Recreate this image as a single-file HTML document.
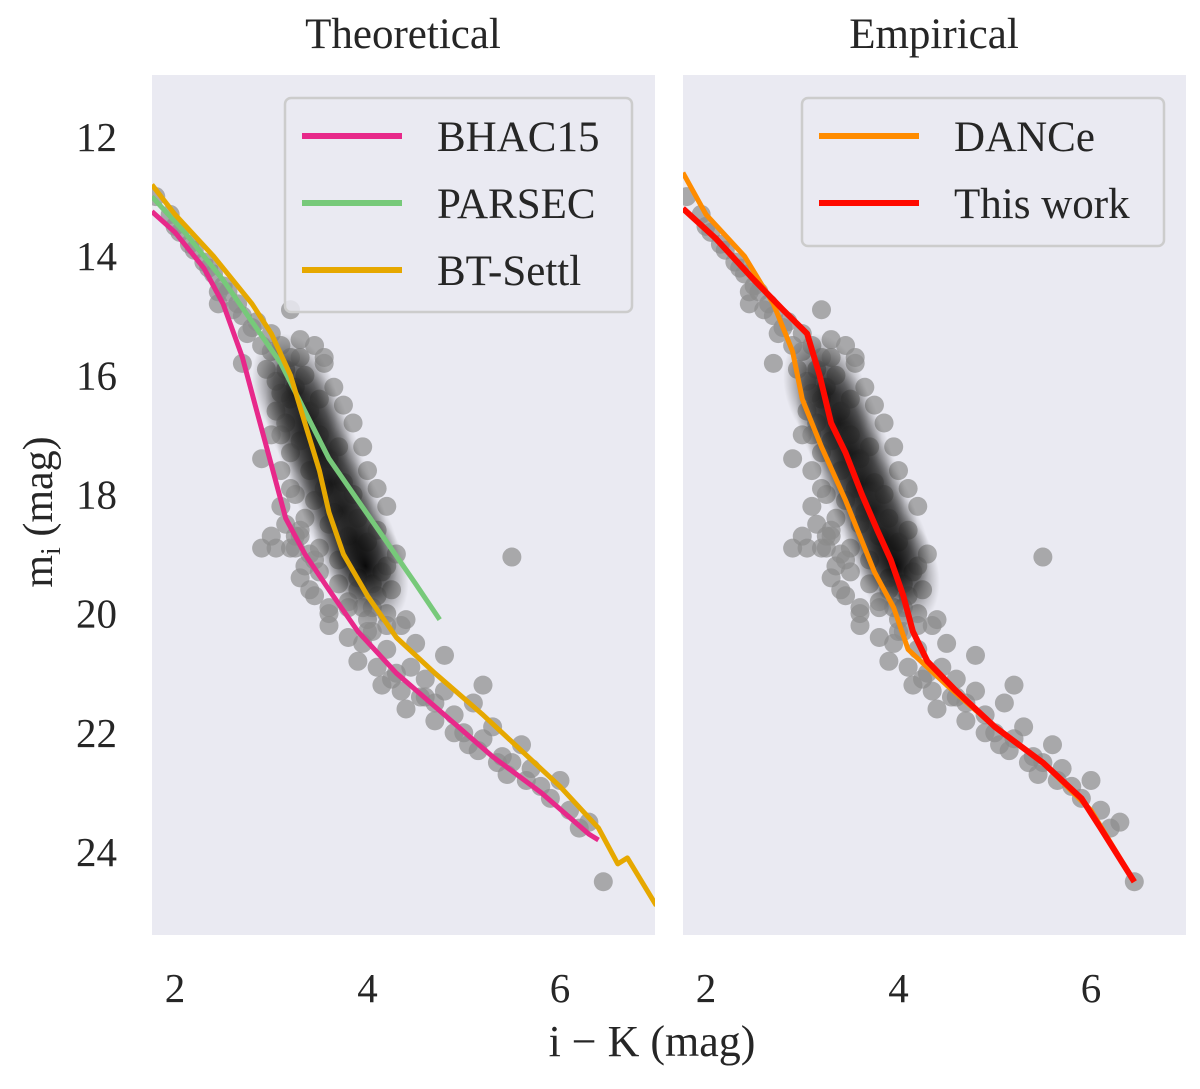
<!DOCTYPE html>
<html><head><meta charset="utf-8"><style>
body{margin:0;background:#fff}
svg text{font-family:"Liberation Serif",serif;fill:#262626}
</style></head><body>
<svg id="fig" width="1200" height="1084" xmlns="http://www.w3.org/2000/svg">
<defs>
<radialGradient id="core" cx="50%" cy="50%" r="50%">
<stop offset="0%" stop-color="#000" stop-opacity="0.9"/>
<stop offset="50%" stop-color="#222" stop-opacity="0.6"/>
<stop offset="100%" stop-color="#555" stop-opacity="0"/>
</radialGradient>
</defs>
</svg>
<script>
const xTicks=[2,4,6];
const yTicks=[12,14,16,18,20,22,24];
const bhacX=[1.76,2.0,2.3,2.5,2.7,2.85,3.0,3.15,3.35,3.6,3.9,4.3,4.8,5.3,5.8,6.3,6.4];
const bhacY=[13.25,13.6,14.2,14.8,15.7,16.6,17.5,18.4,19.0,19.6,20.3,21.0,21.7,22.4,23.0,23.7,23.8];
const parsecX=[1.76,2.1,2.5,2.8,3.1,3.35,3.6,3.9,4.2,4.5,4.75];
const parsecY=[13.0,13.6,14.4,15.1,15.8,16.6,17.4,18.1,18.8,19.5,20.1];
const btX=[1.76,2.0,2.4,2.8,3.0,3.2,3.35,3.5,3.6,3.75,4.0,4.3,4.7,5.2,5.6,6.0,6.4,6.6,6.7,7.0];
const btY=[12.8,13.3,14.0,14.8,15.3,16.0,16.8,17.6,18.3,19.0,19.7,20.4,21.0,21.7,22.3,22.9,23.6,24.2,24.1,24.9];
const danceX=[1.76,2.0,2.4,2.7,2.9,3.0,3.2,3.45,3.6,3.75,3.95,4.1,4.5,5.0,5.5,6.0,6.45];
const danceY=[12.6,13.3,14.0,14.8,15.6,16.4,17.2,18.1,18.7,19.3,19.9,20.6,21.2,21.9,22.5,23.3,24.5];
const workX=[1.76,2.1,2.5,2.8,3.05,3.18,3.3,3.45,3.62,3.78,3.92,4.05,4.15,4.3,4.6,5.0,5.5,5.9,6.1,6.45];
const workY=[13.2,13.7,14.4,14.9,15.3,16.0,16.8,17.3,18.0,18.6,19.1,19.7,20.3,20.8,21.3,21.9,22.5,23.1,23.6,24.5];
const starX=[1.8,1.95,2.05,2.2,2.3,2.4,2.45,2.55,2.6,2.7,2.75,2.8,2.9,2.95,3.0,3.05,3.1,3.15,3.2,3.3,3.35,3.4,3.5,3.1,3.2,3.3,3.4,3.5,3.6,3.7,3.25,3.35,3.45,3.55,3.65,3.75,3.85,3.3,3.5,3.6,3.7,3.8,3.9,4.0,4.1,3.5,3.7,3.8,3.9,4.0,4.1,4.2,4.3,3.05,3.2,3.35,3.6,3.8,4.0,4.2,4.4,3.9,4.1,4.3,4.5,4.15,4.35,4.6,4.4,4.6,4.8,4.7,4.9,5.1,5.0,5.2,5.3,5.4,5.6,5.5,5.7,5.8,6.0,6.1,6.3,6.45,5.5,2.9,2.7,2.45,2.9,3.0,4.8,5.2,
2.0,2.15,2.35,2.5,2.65,2.85,3.0,3.1,3.2,3.3,3.45,3.55,3.05,3.15,3.25,3.0,3.1,3.2,3.15,3.25,3.4,3.1,3.25,3.45,3.3,3.45,3.6,3.8,3.95,4.05,4.15,4.25,3.95,4.05,4.2,4.35,4.25,4.45,4.55,4.7,4.9,5.05,5.15,5.35,5.45,5.65,5.9,6.2,3.9,4.05,4.2,3.4,3.6,3.55,3.65,3.75,3.85,3.95,4.0,4.1,4.2,3.3,3.2];
const starY=[13.0,13.3,13.6,13.9,14.1,14.3,14.6,14.6,14.9,15.0,15.3,15.2,15.5,15.9,15.6,16.1,16.3,15.9,16.4,15.7,16.0,16.6,16.4,17.0,17.3,17.1,17.6,17.0,17.4,17.2,18.0,18.4,18.1,17.9,18.3,17.8,18.0,18.7,18.9,18.5,19.1,18.7,18.4,18.8,18.6,19.3,19.5,19.8,19.4,20.1,19.7,19.2,19.0,18.9,18.9,19.2,20.0,20.4,20.3,20.6,20.1,20.8,20.9,21.0,20.5,21.2,21.3,21.1,21.6,21.4,21.3,21.8,21.7,21.5,22.0,22.1,21.9,22.4,22.2,22.5,22.6,22.9,22.8,23.3,23.5,24.5,19.05,17.4,15.8,14.8,18.9,18.7,20.7,21.2,
13.5,13.8,14.2,14.5,14.8,15.1,15.3,15.5,15.7,15.4,15.5,15.8,16.6,16.8,16.2,17.0,17.6,17.9,18.5,18.7,19.0,18.2,18.9,19.1,19.4,19.7,19.9,19.9,19.9,19.5,19.3,19.6,20.5,20.3,20.0,20.2,21.1,20.9,21.4,21.5,22.0,22.2,22.3,22.5,22.7,22.8,23.1,23.6,19.6,19.9,20.2,19.6,20.2,15.7,16.2,16.5,16.8,17.2,17.6,17.9,18.2,18.6,14.9];
const coreX=[3.25,3.38,3.5,3.62,3.75,3.88,3.98];
const coreY=[16.3,16.8,17.3,17.8,18.3,18.8,19.2];
const svg=document.getElementById('fig');
const NS='http://www.w3.org/2000/svg';
function mk(t,a,p){const e=document.createElementNS(NS,t);for(const k in a)e.setAttribute(k,a[k]);(p||svg).appendChild(e);return e;}
const ys=v=>137+(v-12)*59.58;
const panels=[{x0:152,x2:175,title:'Theoretical',name:'theoretical'},{x0:683,x2:706,title:'Empirical',name:'empirical'}];
function xsF(p){return v=>p.x2+(v-2)*96.25;}
panels.forEach((p,pi)=>{
 const g=mk('g',{});
 
 
 mk('rect',{x:p.x0,y:75,width:503,height:860,fill:'#eaeaf2'},g);
 const cp=mk('clipPath',{id:'c'+pi},g);mk('rect',{x:p.x0,y:75,width:503,height:860},cp);
 const t=mk('text',{x:p.x0+251,y:48,'font-size':43,'text-anchor':'middle'},g);t.textContent=p.title;
 
 const xs=xsF(p);
 xTicks.forEach(v=>{const l=mk('text',{x:xs(v),y:1002,'font-size':41,'text-anchor':'middle'},g);l.textContent=v;
  });
 const pg=mk('g',{'clip-path':`url(#c${pi})`},g);
 
 starX.forEach((v,i)=>{const c=mk('circle',{cx:xs(v),cy:ys(starY[i]),r:9.5,fill:'#8c8c8c',opacity:0.7},pg);
  });
 coreX.forEach((v,i)=>{const c=mk('ellipse',{cx:xs(v),cy:ys(coreY[i]),rx:40,ry:62,fill:'url(#core)',transform:`rotate(-20 ${xs(v)} ${ys(coreY[i])})`},pg);
  });
 const series=pi==0?[[bhacX,bhacY,'#e7298a','bhac15-line'],[parsecX,parsecY,'#77c97a','parsec-line'],[btX,btY,'#e6a800','bt-settl-line']]
  :[[danceX,danceY,'#ff8c00','dance-line'],[workX,workY,'#ff0a00','this-work-line']];
 series.forEach(s=>{const d=s[0].map((v,i)=>(i?'L':'M')+xs(v).toFixed(1)+','+ys(s[1][i]).toFixed(1)).join('');
  const pa=mk('path',{d,fill:'none',stroke:s[2],'stroke-width':s[3]=='this-work-line'?6:5,'stroke-linejoin':'round'},pg);
  });
 const lg=mk('g',{},g);
 const lx=pi==0?285:802, lw=pi==0?347:362, lh=pi==0?214:148;
 mk('rect',{x:lx,y:98,width:lw,height:lh,rx:6,fill:'#eaeaf2','fill-opacity':0.85,stroke:'#ccc','stroke-width':2.5},lg);
 const labels=pi==0?['BHAC15','PARSEC','BT-Settl']:['DANCe','This work'];
 labels.forEach((L,i)=>{const y=136+i*67;
  const ln=mk('line',{x1:lx+17,x2:lx+117,y1:y,y2:y,stroke:series[i][2],'stroke-width':6},lg);
  
  const tx=mk('text',{x:lx+152,y:y+15,'font-size':43},lg);tx.textContent=L;
  });
});
yTicks.forEach(v=>{const l=mk('text',{x:117,y:ys(v)+14,'font-size':41,'text-anchor':'end'});l.textContent=v;
 });
const xt=mk('text',{x:652,y:1056,'font-size':44,'text-anchor':'middle'});xt.textContent='i − K (mag)';

const yt=mk('text',{x:0,y:0,'font-size':42,'text-anchor':'middle',transform:'translate(52,512) rotate(-90)'});
yt.innerHTML='m<tspan font-size="28" dy="8">i</tspan><tspan dy="-8"> (mag)</tspan>';

</script>
</body></html>
